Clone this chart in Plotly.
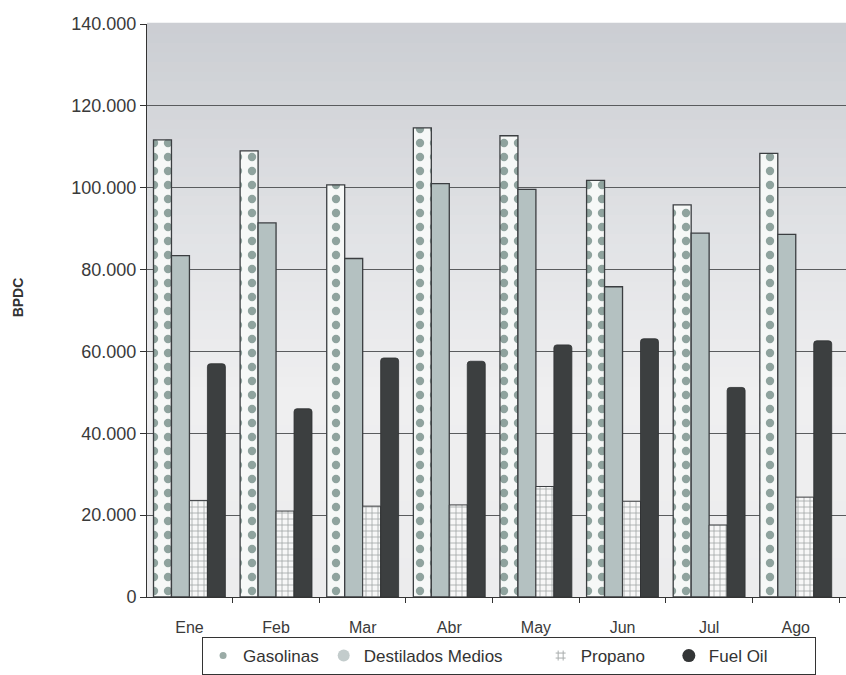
import plotly.graph_objects as go

meses = ["Ene", "Feb", "Mar", "Abr", "May", "Jun", "Jul", "Ago"]
gasolinas = [111700, 109000, 100700, 114600, 112700, 101800, 95800, 108400]
destilados = [83400, 91400, 82700, 101000, 99600, 75800, 88900, 88600]
propano = [23600, 21000, 22200, 22500, 27000, 23400, 17600, 24400]
fuel_oil = [57000, 46000, 58400, 57600, 61600, 63100, 51200, 62600]
y_ticks = [0, 20000, 40000, 60000, 80000, 100000, 120000, 140000]
series_names = ["Gasolinas", "Destilados Medios", "Propano", "Fuel Oil"]

FONT = "Liberation Sans, Arial, sans-serif"
OUTLINE = "#3b3e41"
NB = "\u00a0"

fig = go.Figure()

fig.add_bar(x=meses, y=gasolinas, name=series_names[0], showlegend=False,
            marker=dict(color="#f6f8f7",
                        pattern=dict(shape=".", fgcolor="#8fa39e", bgcolor="#f6f8f7",
                                     size=14, solidity=0.28, fillmode="replace"),
                        line=dict(color=OUTLINE, width=1.3)))
fig.add_bar(x=meses, y=destilados, name=series_names[1], showlegend=False,
            marker=dict(color="#b4c1c1", line=dict(color=OUTLINE, width=1.3)))
fig.add_bar(x=meses, y=propano, name=series_names[2], showlegend=False,
            marker=dict(color="#f3f4f4",
                        pattern=dict(shape="+", fgcolor="#9ca1a1", bgcolor="#f7f7f7",
                                     size=6, solidity=0.24, fillmode="replace"),
                        line=dict(color=OUTLINE, width=1.0)))
fig.add_bar(x=meses, y=fuel_oil, name=series_names[3], showlegend=False,
            marker=dict(color="#3c3f40", line=dict(color="#2e3132", width=0.8),
                        cornerradius=3))

# legend entries
fig.add_scatter(x=[None], y=[None], mode="markers", name=series_names[0],
                marker=dict(symbol="circle", size=7, color="#9aaba6"))
fig.add_scatter(x=[None], y=[None], mode="markers", name=series_names[1] + NB * 7,
                marker=dict(symbol="circle", size=12, color="#c3cccc"))
fig.add_scatter(x=[None], y=[None], mode="markers", name=series_names[2] + NB * 4,
                marker=dict(symbol="hash-open", size=10, color="#a9aeae",
                            line=dict(color="#a9aeae", width=1)))
fig.add_scatter(x=[None], y=[None], mode="markers", name=series_names[3] + NB * 9,
                marker=dict(symbol="circle", size=13, color="#333536"))

# gradient background bands
stops = [(0.0, (236, 236, 237)), (0.35, (239, 239, 240)), (0.6, (227, 228, 231)),
         (0.85, (212, 214, 218)), (1.0, (203, 206, 211))]


def interp(t):
    for (t0, c0), (t1, c1) in zip(stops[:-1], stops[1:]):
        if t0 <= t <= t1:
            f = (t - t0) / (t1 - t0)
            return "rgb(%d,%d,%d)" % tuple(round(a + (b - a) * f) for a, b in zip(c0, c1))
    return "rgb(%d,%d,%d)" % stops[-1][1]


N = 60
shapes = []
for i in range(N):
    t = (i + 0.5) / N
    shapes.append(dict(type="rect", xref="paper", yref="paper", x0=0, x1=1,
                       y0=i / N, y1=(i + 1) / N + 0.002, fillcolor=interp(t),
                       line=dict(width=0), layer="below"))

fig.update_layout(
    width=846, height=675,
    margin=dict(l=147, r=0, t=24, b=72),
    paper_bgcolor="white",
    plot_bgcolor="#e8e8ea",
    barmode="group", bargap=0.17, bargroupgap=0,
    separators=",.",
    font=dict(family=FONT, color="#3a3a3a"),
    shapes=shapes,
    legend=dict(orientation="h", x=0.518, xanchor="center", y=-0.1035, yanchor="middle",
                bordercolor="#333333", borderwidth=1, bgcolor="white",
                font=dict(size=17, color="#333333"), itemsizing="trace"),
    annotations=[dict(text="<b>BPDC</b>", xref="paper", yref="paper", x=-0.1845, y=0.523,
                      xanchor="center", yanchor="middle",
                      textangle=-90, showarrow=False, font=dict(size=14, color="#333333"))],
)

fig.update_xaxes(type="category", range=[-0.49, 7.58], tickson="boundaries",
                 ticks="outside", ticklen=5, tickcolor="#333333",
                 showline=True, linecolor="#333333", linewidth=1,
                 showgrid=False, ticklabelstandoff=16,
                 tickfont=dict(size=16, color="#3a3a3a"))
fig.update_yaxes(range=[0, 140000], tickvals=y_ticks, tickformat=",d",
                 ticks="outside", ticklen=6, tickcolor="#333333",
                 showline=True, linecolor="#333333", linewidth=1,
                 showgrid=True, gridcolor="#5a5c5e", gridwidth=1, zeroline=False,
                 tickfont=dict(size=18, color="#3a3a3a"))

css_js = ("document.documentElement.style.margin='0';"
          "document.documentElement.style.overflow='hidden';"
          "document.documentElement.style.height='675px';"
          "document.body.style.margin='0';"
          "document.body.style.overflow='hidden';"
          "document.body.style.height='675px';")
fig.write_html("out.html", config={"displayModeBar": False}, post_script=css_js)
